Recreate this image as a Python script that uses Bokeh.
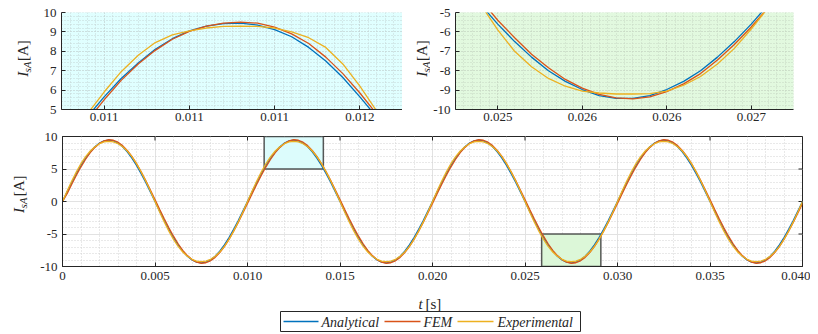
import numpy as np
from bokeh.plotting import figure
from bokeh.layouts import column, row
from bokeh.models import FixedTicker, Range1d
from bokeh.core.properties import value
from bokeh.embed import file_html
from bokeh.resources import INLINE

# ---------------- data ----------------
t_main = [round(0.00025 * k, 5) for k in range(161)]

analytical = [
    0.00, 1.48, 2.92, 4.29, 5.55, 6.68, 7.65, 8.42, 8.99, 9.33, 9.45, 9.33, 8.99, 8.42, 7.65, 6.68, 5.55, 4.29, 2.92, 1.48,
    0.00, -1.48, -2.92, -4.29, -5.55, -6.68, -7.65, -8.42, -8.99, -9.33, -9.45, -9.33, -8.99, -8.42, -7.65, -6.68, -5.55, -4.29, -2.92, -1.48,
    0.00, 1.48, 2.92, 4.29, 5.55, 6.68, 7.65, 8.42, 8.99, 9.33, 9.45, 9.33, 8.99, 8.42, 7.65, 6.68, 5.55, 4.29, 2.92, 1.48,
    0.00, -1.48, -2.92, -4.29, -5.55, -6.68, -7.65, -8.42, -8.99, -9.33, -9.45, -9.33, -8.99, -8.42, -7.65, -6.68, -5.55, -4.29, -2.92, -1.48,
    0.00, 1.48, 2.92, 4.29, 5.55, 6.68, 7.65, 8.42, 8.99, 9.33, 9.45, 9.33, 8.99, 8.42, 7.65, 6.68, 5.55, 4.29, 2.92, 1.48,
    0.00, -1.48, -2.92, -4.29, -5.55, -6.68, -7.65, -8.42, -8.99, -9.33, -9.45, -9.33, -8.99, -8.42, -7.65, -6.68, -5.55, -4.29, -2.92, -1.48,
    0.00, 1.48, 2.92, 4.29, 5.55, 6.68, 7.65, 8.42, 8.99, 9.33, 9.45, 9.33, 8.99, 8.42, 7.65, 6.68, 5.55, 4.29, 2.92, 1.48,
    0.00, -1.48, -2.92, -4.29, -5.55, -6.68, -7.65, -8.42, -8.99, -9.33, -9.45, -9.33, -8.99, -8.42, -7.65, -6.68, -5.55, -4.29, -2.92, -1.48,
    0.00]
fem = [
    0.00, 1.19, 2.65, 4.05, 5.34, 6.50, 7.51, 8.32, 8.94, 9.33, 9.50, 9.42, 9.12, 8.60, 7.86, 6.93, 5.82, 4.58, 3.22, 1.78,
    0.30, -1.19, -2.65, -4.05, -5.34, -6.50, -7.51, -8.32, -8.94, -9.33, -9.50, -9.42, -9.12, -8.60, -7.86, -6.93, -5.82, -4.58, -3.22, -1.78,
    -0.30, 1.19, 2.65, 4.05, 5.34, 6.50, 7.51, 8.32, 8.94, 9.33, 9.50, 9.42, 9.12, 8.60, 7.86, 6.93, 5.82, 4.58, 3.22, 1.78,
    0.30, -1.19, -2.65, -4.05, -5.34, -6.50, -7.51, -8.32, -8.94, -9.33, -9.50, -9.42, -9.12, -8.60, -7.86, -6.93, -5.82, -4.58, -3.22, -1.78,
    -0.30, 1.19, 2.65, 4.05, 5.34, 6.50, 7.51, 8.32, 8.94, 9.33, 9.50, 9.42, 9.12, 8.60, 7.86, 6.93, 5.82, 4.58, 3.22, 1.78,
    0.30, -1.19, -2.65, -4.05, -5.34, -6.50, -7.51, -8.32, -8.94, -9.33, -9.50, -9.42, -9.12, -8.60, -7.86, -6.93, -5.82, -4.58, -3.22, -1.78,
    -0.30, 1.19, 2.65, 4.05, 5.34, 6.50, 7.51, 8.32, 8.94, 9.33, 9.50, 9.42, 9.12, 8.60, 7.86, 6.93, 5.82, 4.58, 3.22, 1.78,
    0.30, -1.19, -2.65, -4.05, -5.34, -6.50, -7.51, -8.32, -8.94, -9.33, -9.50, -9.42, -9.12, -8.60, -7.86, -6.93, -5.82, -4.58, -3.22, -1.78,
    -0.30]
experimental = [
    0.00, 1.60, 3.14, 4.56, 5.82, 6.90, 7.77, 8.42, 8.89, 9.16, 9.25, 9.16, 8.89, 8.42, 7.77, 6.90, 5.82, 4.56, 3.14, 1.60,
    0.00, -1.60, -3.14, -4.56, -5.82, -6.90, -7.77, -8.42, -8.89, -9.16, -9.25, -9.16, -8.89, -8.42, -7.77, -6.90, -5.82, -4.56, -3.14, -1.60,
    0.00, 1.60, 3.14, 4.56, 5.82, 6.90, 7.77, 8.42, 8.89, 9.16, 9.25, 9.16, 8.89, 8.42, 7.77, 6.90, 5.82, 4.56, 3.14, 1.60,
    0.00, -1.60, -3.14, -4.56, -5.82, -6.90, -7.77, -8.42, -8.89, -9.16, -9.25, -9.16, -8.89, -8.42, -7.77, -6.90, -5.82, -4.56, -3.14, -1.60,
    0.00, 1.60, 3.14, 4.56, 5.82, 6.90, 7.77, 8.42, 8.89, 9.16, 9.25, 9.16, 8.89, 8.42, 7.77, 6.90, 5.82, 4.56, 3.14, 1.60,
    0.00, -1.60, -3.14, -4.56, -5.82, -6.90, -7.77, -8.42, -8.89, -9.16, -9.25, -9.16, -8.89, -8.42, -7.77, -6.90, -5.82, -4.56, -3.14, -1.60,
    0.00, 1.60, 3.14, 4.56, 5.82, 6.90, 7.77, 8.42, 8.89, 9.16, 9.25, 9.16, 8.89, 8.42, 7.77, 6.90, 5.82, 4.56, 3.14, 1.60,
    0.00, -1.60, -3.14, -4.56, -5.82, -6.90, -7.77, -8.42, -8.89, -9.16, -9.25, -9.16, -8.89, -8.42, -7.77, -6.90, -5.82, -4.56, -3.14, -1.60,
    0.00]

# zoom 1 (positive peak)
t_zoom1 = [0.0106, 0.0108, 0.0110, 0.0112, 0.0114, 0.0116, 0.0118, 0.0120, 0.0122, 0.0124,
           0.0126, 0.0128, 0.0130, 0.0132, 0.0134, 0.0136, 0.0138, 0.0140, 0.0142, 0.0144]
analytical_z1 = [3.50, 4.60, 5.65, 6.60, 7.40, 8.10, 8.65, 9.05, 9.30, 9.43,
                 9.45, 9.35, 9.12, 8.75, 8.20, 7.50, 6.65, 5.65, 4.60, 3.50]
fem_z1 = [3.30, 4.40, 5.50, 6.50, 7.35, 8.05, 8.62, 9.03, 9.30, 9.45,
          9.50, 9.45, 9.25, 8.90, 8.40, 7.70, 6.85, 5.85, 4.75, 3.60]
experimental_z1 = [3.60, 4.75, 5.90, 6.95, 7.80, 8.45, 8.85, 9.05, 9.20, 9.28,
                   9.30, 9.28, 9.20, 9.00, 8.70, 8.20, 7.35, 6.20, 4.90, 3.70]

# zoom 2 (negative peak)
t_zoom2 = [0.0256, 0.0258, 0.0260, 0.0262, 0.0264, 0.0266, 0.0268, 0.0270, 0.0272, 0.0274,
           0.0276, 0.0278, 0.0280, 0.0282, 0.0284, 0.0286, 0.0288, 0.0290, 0.0292, 0.0294]
analytical_z2 = [-3.50, -4.60, -5.60, -6.50, -7.30, -8.00, -8.55, -8.97, -9.28, -9.43,
                 -9.43, -9.28, -8.97, -8.55, -8.00, -7.30, -6.50, -5.60, -4.60, -3.50]
fem_z2 = [-3.30, -4.35, -5.40, -6.30, -7.15, -7.85, -8.45, -8.90, -9.22, -9.40,
          -9.45, -9.35, -9.08, -8.68, -8.15, -7.45, -6.65, -5.75, -4.75, -3.65]
experimental_z2 = [-3.50, -4.60, -5.90, -7.00, -7.80, -8.40, -8.80, -9.05, -9.15, -9.20,
                   -9.20, -9.18, -9.05, -8.75, -8.30, -7.65, -6.85, -5.85, -4.75, -3.60]

# zoom rectangles drawn in the main plot
zoom_left = [0.0109, 0.0259]
zoom_right = [0.0141, 0.0291]
zoom_bottom = [5, -10]
zoom_top = [10, -5]
zoom_colors = ["#dcfcfc", "#dcf7d8"]

# axis ticks and labels
main_xticks = [0.0, 0.005, 0.010, 0.015, 0.020, 0.025, 0.030, 0.035, 0.040]
main_xlabels = ["0", "0.005", "0.010", "0.015", "0.020", "0.025", "0.030", "0.035", "0.040"]
main_yticks = [-10, -5, 0, 5, 10]
main_ylabels = ["-10", "-5", "0", "5", "10"]
z1_xticks = [0.011, 0.012, 0.013, 0.014]
z1_xlabels = ["0.011", "0.011", "0.011", "0.012"]
z1_yticks = [5, 6, 7, 8, 9, 10]
z1_ylabels = ["5", "6", "7", "8", "9", "10"]
z2_xticks = [0.026, 0.027, 0.028, 0.029]
z2_xlabels = ["0.025", "0.026", "0.026", "0.027"]
z2_yticks = [-10, -9, -8, -7, -6, -5]
z2_ylabels = ["-10", "-9", "-8", "-7", "-6", "-5"]

series_names = ["Analytical", "FEM", "Experimental"]
series_colors = ["#0072BD", "#D95319", "#EDB120"]

# ---------------- style ----------------
FONT = "Liberation Serif"
TXT = "#262626"
TICK_FS = "13px"
ROW1_H = 127          # height of the inset row (px)
MAIN_TOP = ROW1_H     # page y where the main figure starts
MAIN_H = 9 + 130 + 21
BOT_TOP = MAIN_TOP + MAIN_H
BOT_H = 333 - BOT_TOP


def style_axis(ax, ticks, labels, minor, standoff=5):
    ax.ticker = FixedTicker(ticks=ticks, minor_ticks=minor)
    ax.major_label_overrides = {tk: lb for tk, lb in zip(ticks, labels)}
    ax.axis_line_color = TXT
    ax.major_tick_line_color = TXT
    ax.major_tick_in = 4
    ax.major_tick_out = 0
    ax.minor_tick_in = 0
    ax.minor_tick_out = 0
    ax.major_label_text_font = FONT
    ax.major_label_text_font_size = TICK_FS
    ax.major_label_text_color = TXT
    ax.major_label_standoff = standoff


def style_grid(p, major_color, minor_color, major_dash=None):
    for g in (p.xgrid, p.ygrid):
        g.grid_line_color = major_color
        g.grid_line_width = 1
        if major_dash:
            g.grid_line_dash = major_dash
        g.minor_grid_line_color = minor_color
        g.minor_grid_line_dash = "1 2"
        g.minor_grid_line_width = 1


def blank(x_left, w, y_top, h):
    """An axis-less figure whose coordinates are page pixels, with y = -page_y."""
    p = figure(width=w, height=h, x_range=Range1d(x_left, x_left + w),
               y_range=Range1d(-(y_top + h), -y_top), min_border=0,
               x_axis_location=None, y_axis_location=None,
               toolbar_location=None, output_backend="svg")
    p.outline_line_color = None
    p.grid.visible = False
    p.background_fill_color = "white"
    p.border_fill_color = "white"
    return p


def txt(p, x, y, s, size, style="normal", angle=0.0, align="left", baseline="alphabetic"):
    p.text(x=[x], y=[-y], text=[s], angle=angle, text_font=value(FONT),
           text_font_size=value(size), text_font_style=value(style), text_color=TXT,
           text_align=value(align), text_baseline=value(baseline))


def ylabel(p, xc, y_bottom):
    # "I_sA [A]" written bottom-to-top, centred on the vertical line xc
    a = np.pi / 2
    txt(p, xc, y_bottom, "I", "15px", "italic", a, baseline="middle")
    txt(p, xc + 4, y_bottom - 5.5, "sA", "11px", "italic", a, baseline="middle")
    txt(p, xc, y_bottom - 20.5, "[A]", "15px", "normal", a, baseline="middle")


def make_inset(xr, yr, xt, xl, yt, yl, bg, gcol, ts, ys, mb_left, fw, mb_right):
    p = figure(frame_width=fw, frame_height=97, x_range=Range1d(*xr), y_range=Range1d(*yr),
               output_backend="svg", toolbar_location=None,
               min_border_left=mb_left, min_border_right=mb_right,
               min_border_top=12, min_border_bottom=ROW1_H - 12 - 97)
    p.background_fill_color = bg
    p.border_fill_color = "white"
    p.outline_line_color = None
    xminor = list(np.arange(xr[0], xr[1] + 1e-9, 0.0001))
    yminor = list(np.arange(yr[0], yr[1] + 1e-9, 0.2))
    style_axis(p.xaxis[0], xt, xl, xminor, standoff=3)
    style_axis(p.yaxis[0], yt, yl, yminor)
    style_grid(p, gcol, gcol, "1 2")
    for ys_, c in zip(ys, series_colors):
        p.line(ts, ys_, line_color=c, line_width=1.3)
    return p


# ---------------- row 1: insets ----------------
lab1 = blank(0, 32, 0, ROW1_H)
ylabel(lab1, 22, 84)
p1 = make_inset((0.0105, 0.0145), (5, 10), z1_xticks, z1_xlabels, z1_yticks, z1_ylabels,
                "#e0ffff", "#c4d4d4", t_zoom1, [analytical_z1, fem_z1, experimental_z1], 29, 341, 0)
lab2 = blank(402, 28, 0, ROW1_H)
ylabel(lab2, 402 + 19, 84)
p2 = make_inset((0.0255, 0.0295), (-10, -5), z2_xticks, z2_xlabels, z2_yticks, z2_ylabels,
                "#e2f9df", "#c6d6c3", t_zoom2, [analytical_z2, fem_z2, experimental_z2], 25, 338, 8)

# ---------------- row 2: main plot ----------------
XR = (0, 0.04)
YR = (-10, 10)
lab3 = blank(0, 32, MAIN_TOP, MAIN_H)
ylabel(lab3, 18, 221)
p3 = figure(frame_width=740, frame_height=130, x_range=Range1d(*XR), y_range=Range1d(*YR),
            output_backend="svg", toolbar_location=None,
            min_border_left=30, min_border_right=8, min_border_top=9, min_border_bottom=21)
p3.background_fill_color = "white"
p3.border_fill_color = "white"
p3.outline_line_color = TXT
p3.outline_line_width = 1
main_xminor = list(np.arange(XR[0], XR[1] + 1e-9, 0.001))
main_yminor = list(np.arange(YR[0], YR[1] + 1e-9, 1))
style_axis(p3.xaxis[0], main_xticks, main_xlabels, main_xminor)
style_axis(p3.yaxis[0], main_yticks, main_ylabels, main_yminor)
style_grid(p3, "#e2e2e2", "#d2d2d2")

# inward tick marks on the top and right edges of the box
p3.ray(x=main_xticks, y=[YR[1]] * len(main_xticks), length=4, length_units="screen",
       angle=-np.pi / 2, line_color=TXT, line_width=1)
p3.ray(x=[XR[1]] * len(main_yticks), y=main_yticks, length=4, length_units="screen",
       angle=np.pi, line_color=TXT, line_width=1)

p3.quad(left=zoom_left, right=zoom_right, bottom=zoom_bottom, top=zoom_top,
        fill_color=zoom_colors, fill_alpha=1, line_color="#3a3a3a", line_width=1.5, line_alpha=0.85)

for ys_, c in zip([analytical, fem, experimental], series_colors):
    p3.line(t_main, ys_, line_color=c, line_width=1.3)

# ---------------- row 3: x label and legend ----------------
bot = blank(0, 810, BOT_TOP, BOT_H)
txt(bot, 418, 303, "t", "15px", "italic")
txt(bot, 425, 303, "[s]", "15px", "normal")

LEG_BOX = (280, 580, 311, 331)          # left, right, top, bottom (page px)
LEG_SWATCH_X = [(283, 318), (384, 420), (457, 493)]
LEG_TEXT_X = [321, 423, 497]
leg_y = (LEG_BOX[2] + LEG_BOX[3]) / 2
bot.quad(left=[LEG_BOX[0]], right=[LEG_BOX[1]], top=[-LEG_BOX[2]], bottom=[-LEG_BOX[3]],
         fill_color="white", line_color=TXT, line_width=1)
bot.segment(x0=[a for a, b in LEG_SWATCH_X], x1=[b for a, b in LEG_SWATCH_X],
            y0=[-leg_y] * 3, y1=[-leg_y] * 3, line_color=series_colors, line_width=1.3)
for name, xt in zip(series_names, LEG_TEXT_X):
    txt(bot, xt, leg_y + 0.5, name, "14px", "italic", baseline="middle")

layout = column(row(lab1, p1, lab2, p2), row(lab3, p3), bot)
open("out.html", "w").write(file_html(layout, INLINE))
